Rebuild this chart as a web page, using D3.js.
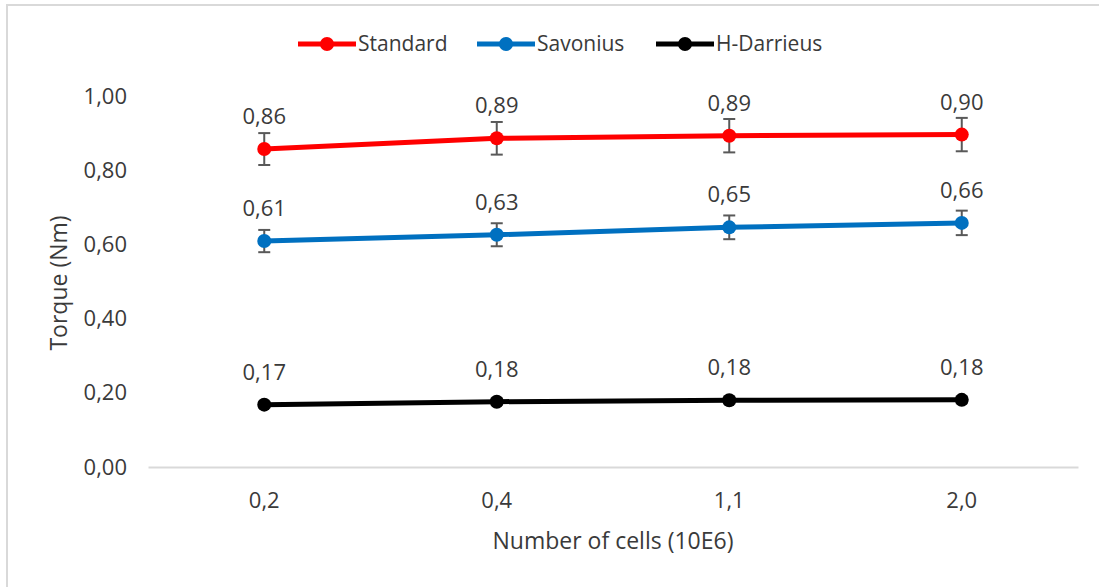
<!doctype html>
<html>
  <head>
    <meta charset="utf-8">
    <title>Torque vs number of cells</title>
    <style>
      body { margin: 0; background: #fff; }
      text { font-family: "Open Sans", "Noto Sans", sans-serif; fill: #3a3a3a; }
    </style>
  </head>
  <body>
    <div id="chart"></div>
    <script src="https://cdn.jsdelivr.net/npm/d3@7"></script>
    <script>
      // data
      var categories = ['0,2', '0,4', '1,1', '2,0'];
      var yTicks = [0, 0.2, 0.4, 0.6, 0.8, 1.0];
      var seriesNames = ['Standard', 'Savonius', 'H-Darrieus'];
      var seriesColors = ['#ff0000', '#0070c0', '#000000'];
      var standard = [0.857, 0.886, 0.893, 0.896];
      var savonius = [0.609, 0.626, 0.646, 0.658];
      var hDarrieus = [0.168, 0.176, 0.180, 0.181];
      var standardErr = [0.043, 0.044, 0.045, 0.045];
      var savoniusErr = [0.030, 0.031, 0.032, 0.033];
      var hDarrieusErr = [0.008, 0.009, 0.009, 0.009];

      var width = 1099, height = 587;
      var margin = {left: 148, right: 21, top: 96, bottom: 120};

      var series = seriesNames.map(function(n, i) {
        return {name: n, color: seriesColors[i],
                values: [standard, savonius, hDarrieus][i],
                errs: [standardErr, savoniusErr, hDarrieusErr][i]};
      });

      var svg = d3.select('#chart').append('svg')
        .attr('width', width)
        .attr('height', height);

      // outer chart border (only top/left visible in the frame)
      svg.append('rect')
        .attr('x', 7).attr('y', 5)
        .attr('width', 1300).attr('height', 800)
        .attr('fill', 'none')
        .attr('stroke', '#d9d9d9')
        .attr('stroke-width', 2);

      var x = d3.scaleBand()
        .domain(categories)
        .range([margin.left, width - margin.right]);

      var y = d3.scaleLinear()
        .domain([0, 1])
        .range([height - margin.bottom, margin.top]);

      var fmt = function(v) { return d3.format('.2f')(v).replace('.', ','); };

      // y axis labels
      var yAxis = svg.append('g')
        .attr('transform', 'translate(' + margin.left + ',0)')
        .call(d3.axisLeft(y).tickValues(yTicks).tickFormat(fmt).tickSize(0).tickPadding(21));
      yAxis.select('.domain').remove();
      yAxis.selectAll('text')
        .style('font-size', '22px')
        .attr('fill', '#3a3a3a')
        .style('font-family', '"Open Sans", sans-serif');

      // x axis
      var xAxis = svg.append('g')
        .attr('transform', 'translate(0,' + y(0) + ')')
        .call(d3.axisBottom(x).tickSize(0).tickPadding(25));
      xAxis.select('.domain')
        .attr('stroke', '#d9d9d9')
        .attr('stroke-width', 2);
      xAxis.selectAll('text')
        .style('font-size', '22px')
        .attr('fill', '#3a3a3a')
        .style('font-family', '"Open Sans", sans-serif');

      var cx = function(i) { return x(categories[i]) + x.bandwidth() / 2; };

      var line = d3.line()
        .x(function(d, i) { return cx(i); })
        .y(function(d) { return y(d); });

      series.forEach(function(s) {
        var g = svg.append('g');

        g.append('path')
          .datum(s.values)
          .attr('d', line)
          .attr('fill', 'none')
          .attr('stroke', s.color)
          .attr('stroke-width', 5)
          .attr('stroke-linejoin', 'round');

        // error bars
        var eb = g.selectAll('.err').data(s.values).enter().append('g');
        eb.append('line')
          .attr('x1', function(d, i) { return cx(i); })
          .attr('x2', function(d, i) { return cx(i); })
          .attr('y1', function(d, i) { return y(d - s.errs[i]); })
          .attr('y2', function(d, i) { return y(d + s.errs[i]); })
          .attr('stroke', '#595959').attr('stroke-width', 2);
        [-1, 1].forEach(function(sign) {
          eb.append('line')
            .attr('x1', function(d, i) { return cx(i) - 6; })
            .attr('x2', function(d, i) { return cx(i) + 6; })
            .attr('y1', function(d, i) { return y(d + sign * s.errs[i]); })
            .attr('y2', function(d, i) { return y(d + sign * s.errs[i]); })
            .attr('stroke', '#595959').attr('stroke-width', 2);
        });

        g.selectAll('circle').data(s.values).enter().append('circle')
          .attr('cx', function(d, i) { return cx(i); })
          .attr('cy', function(d) { return y(d); })
          .attr('r', 7)
          .attr('fill', s.color);

        g.selectAll('.lbl').data(s.values).enter().append('text')
          .attr('x', function(d, i) { return cx(i); })
          .attr('y', function(d) { return y(d) - 25; })
          .attr('text-anchor', 'middle')
          .style('font-size', '22px')
          .text(fmt);
      });

      // legend
      var legendX = [298, 477, 656];
      var legend = svg.append('g');
      series.forEach(function(s, i) {
        var lx = legendX[i];
        legend.append('line')
          .attr('x1', lx).attr('x2', lx + 58)
          .attr('y1', 44).attr('y2', 44)
          .attr('stroke', s.color).attr('stroke-width', 5);
        legend.append('circle')
          .attr('cx', lx + 29).attr('cy', 44).attr('r', 7)
          .attr('fill', s.color);
        legend.append('text')
          .attr('x', lx + 60).attr('y', 51)
          .style('font-size', '21px')
          .text(s.name);
      });

      // axis titles
      svg.append('text')
        .attr('transform', 'translate(67,283)rotate(-90)')
        .attr('text-anchor', 'middle')
        .style('font-size', '23px')
        .text('Torque (Nm)');

      svg.append('text')
        .attr('x', (margin.left + width - margin.right) / 2)
        .attr('y', 549)
        .attr('text-anchor', 'middle')
        .style('font-size', '23px')
        .text('Number of cells (10E6)');
    </script>
  </body>
</html>
